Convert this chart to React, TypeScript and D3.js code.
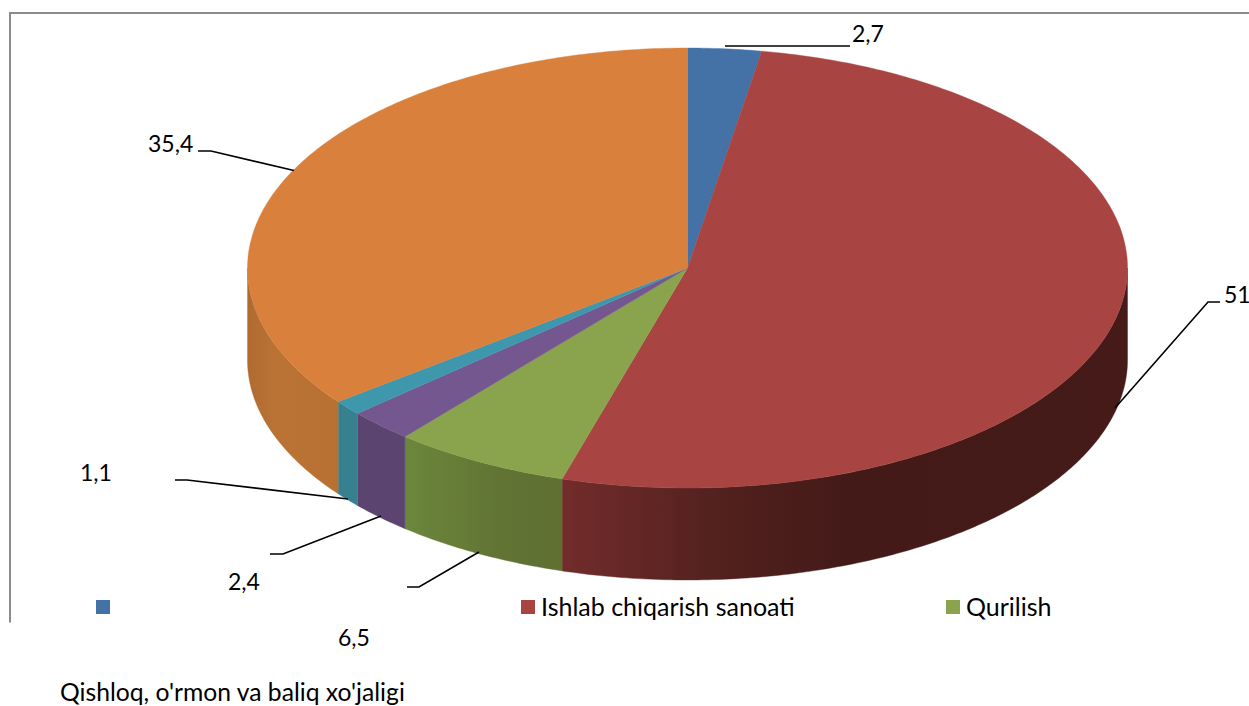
import React from "react";
import * as d3 from "d3";

const categories = [
  "Qishloq, o'rmon va baliq xo'jaligi",
  "Ishlab chiqarish sanoati",
  "Qurilish",
  "Savdo",
  "Transport",
  "Xizmatlar",
];
const values = [2.7, 51.9, 6.5, 2.4, 1.1, 35.4];
const topColors = ["#4572a6", "#a84442", "#89a44d", "#74578f", "#3f97ad", "#d8803c"];
const sideStops = [
  [["0%", "#35557c"], ["100%", "#35557c"]],
  [["0%", "#722c2b"], ["30%", "#50201d"], ["50%", "#441a18"], ["100%", "#451a18"]],
  [["0%", "#6c873c"], ["60%", "#617434"], ["100%", "#5f7032"]],
  [["0%", "#5c4470"], ["100%", "#5c4470"]],
  [["0%", "#37808f"], ["100%", "#37808f"]],
  [["0%", "#b06a30"], ["30%", "#ba7335"], ["100%", "#b87133"]],
];
const labelTexts = ["2,7", "51,9", "6,5", "2,4", "1,1", "35,4"];
const labelPos = [[852, 42], [1224, 303], [338, 646], [228, 590], [80, 481], [148, 152]];
const leaders = [
  [[725, 46], [850, 46]],
  [[1115, 408], [1208, 302], [1220, 302]],
  [[479, 552], [419, 587], [407, 587]],
  [[381, 516], [283, 554], [270, 554]],
  [[348, 499], [187, 480], [175, 480]],
  [[294, 170.5], [211, 151], [198, 151]],
];
const legendNames = ["", "Ishlab chiqarish sanoati", "Qurilish"];
const legendX = [96, 521, 946];

const W = 1249, H = 706;
const cx = 687.5, cy = 268, rx = 440, ry = 220, depth = 92;
const FONT = "Lato, Carlito, Calibri, sans-serif";

export default function App() {
  const arcs = d3.pie<number>().sort(null)(values);
  const px = (a: number) => cx + rx * Math.sin(a);
  const py = (a: number) => cy - ry * Math.cos(a);
  const samples = (a0: number, a1: number) => {
    const n = Math.max(2, Math.ceil((a1 - a0) * 80));
    return d3.range(n + 1).map((i) => a0 + ((a1 - a0) * i) / n);
  };
  const line = d3.line<[number, number]>();
  const topPath = (a0: number, a1: number) =>
    line([[cx, cy], ...samples(a0, a1).map((a) => [px(a), py(a)] as [number, number])])! + "Z";
  const sidePath = (a0: number, a1: number) => {
    const lo = Math.max(a0, Math.PI / 2);
    const hi = Math.min(a1, (3 * Math.PI) / 2);
    if (hi <= lo) return null;
    const s = samples(lo, hi);
    const upper = s.map((a) => [px(a), py(a)] as [number, number]);
    const lower = s.slice().reverse().map((a) => [px(a), py(a) + depth] as [number, number]);
    return line([...upper, ...lower])! + "Z";
  };
  const sideBounds = (a0: number, a1: number) => {
    const lo = Math.max(a0, Math.PI / 2);
    const hi = Math.min(a1, (3 * Math.PI) / 2);
    const xs = samples(lo, hi).map(px);
    return [d3.min(xs)!, d3.max(xs)!];
  };

  return (
    <svg
      width={W}
      height={H}
      viewBox={`0 0 ${W} ${H}`}
      style={{ position: "absolute", left: 0, top: 0, background: "#fff", fontFamily: FONT }}
    >
      <defs>
        {arcs.map((d, i) => {
          const [x1, x2] = d.endAngle > Math.PI / 2 && d.startAngle < (3 * Math.PI) / 2
            ? sideBounds(d.startAngle, d.endAngle)
            : [0, 1];
          return (
            <linearGradient key={i} id={`side${i}`} gradientUnits="userSpaceOnUse" x1={x1} x2={x2} y1={0} y2={0}>
              {sideStops[i].map(([o, c]) => (
                <stop key={o} offset={o} stopColor={c} />
              ))}
            </linearGradient>
          );
        })}
      </defs>
      <path d="M10 622.5V13H1249" fill="none" stroke="#8c8c8c" strokeWidth={2} />
      {arcs.map((d, i) => {
        const p = sidePath(d.startAngle, d.endAngle);
        return p ? <path key={i} d={p} fill={`url(#side${i})`} stroke={`url(#side${i})`} strokeWidth={0.4} /> : null;
      })}
      {arcs.map((d, i) => (
        <path key={i} d={topPath(d.startAngle, d.endAngle)} fill={topColors[i]} stroke={topColors[i]} strokeWidth={0.4}>
          <title>{categories[i]}</title>
        </path>
      ))}
      {leaders.map((pts, i) => (
        <path key={i} d={line(pts as [number, number][])!} fill="none" stroke="#000" strokeWidth={1.6} />
      ))}
      {labelTexts.map((t, i) => (
        <text key={i} x={labelPos[i][0]} y={labelPos[i][1]} fontSize={23} fill="#000">
          {t}
        </text>
      ))}
      {legendNames.map((name, i) => (
        <g key={i}>
          <rect x={legendX[i]} y={600} width={14} height={14} fill={topColors[i]} />
          {name && (
            <text x={legendX[i] + 20} y={616} fontSize={25} fill="#000">
              {name}
            </text>
          )}
        </g>
      ))}
      <text x={60} y={700.5} fontSize={24.7} fill="#000">
        {categories[0]}
      </text>
    </svg>
  );
}
